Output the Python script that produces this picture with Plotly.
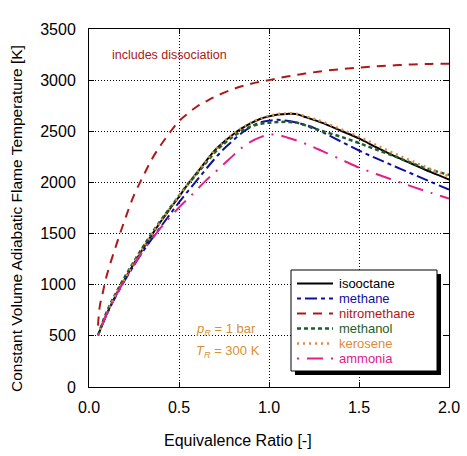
import plotly.graph_objects as go

phi = [0.05, 0.1, 0.15, 0.2, 0.25, 0.3, 0.35, 0.4, 0.45, 0.5, 0.55, 0.6, 0.65, 0.7, 0.75,
       0.8, 0.85, 0.9, 0.95, 1.0, 1.05, 1.1, 1.15, 1.2, 1.25, 1.3, 1.4, 1.5, 1.6, 1.7,
       1.8, 1.9, 2.0]

isooctane = [505, 720, 901, 1059, 1208, 1352, 1490, 1620, 1742, 1860, 1985, 2095, 2208,
             2316, 2397, 2469, 2530, 2580, 2620, 2646, 2664, 2670, 2668, 2640, 2612, 2580,
             2505, 2430, 2340, 2255, 2178, 2100, 2028]
kerosene = [505, 722, 905, 1062, 1212, 1356, 1494, 1624, 1745, 1862, 1987, 2097, 2210,
            2318, 2400, 2472, 2534, 2584, 2624, 2650, 2668, 2675, 2672, 2648, 2622, 2592,
            2520, 2448, 2362, 2280, 2205, 2130, 2058]
methanol = [505, 740, 920, 1080, 1228, 1370, 1505, 1632, 1752, 1868, 1985, 2085, 2192,
            2295, 2378, 2448, 2505, 2548, 2572, 2584, 2590, 2592, 2585, 2560, 2526, 2500,
            2446, 2385, 2318, 2255, 2185, 2122, 2075]
methane = [505, 715, 890, 1045, 1190, 1325, 1450, 1570, 1688, 1805, 1915, 2022, 2130,
           2235, 2330, 2410, 2485, 2545, 2585, 2603, 2612, 2602, 2586, 2562, 2534, 2490,
           2400, 2312, 2232, 2156, 2080, 2005, 1930]
ammonia = [505, 720, 895, 1050, 1195, 1333, 1445, 1560, 1660, 1755, 1842, 1930, 2020,
           2100, 2180, 2262, 2340, 2400, 2440, 2468, 2463, 2440, 2412, 2380, 2343, 2303,
           2225, 2145, 2080, 2018, 1956, 1898, 1842]

phi_nitro = [0.05, 0.06, 0.075, 0.1, 0.15, 0.2, 0.25, 0.3, 0.35, 0.4, 0.45, 0.5, 0.55,
             0.6, 0.65, 0.7, 0.8, 0.9, 1.0, 1.1, 1.2, 1.3, 1.4, 1.5, 1.6, 1.7, 1.8, 1.9, 2.0]
nitromethane = [600, 790, 910, 1100, 1380, 1640, 1875, 2057, 2230, 2368, 2490, 2600, 2675,
                2742, 2792, 2838, 2912, 2965, 3000, 3035, 3064, 3089, 3107, 3122, 3135,
                3145, 3154, 3159, 3160]

fuel_names = ["isooctane", "methane", "nitromethane", "methanol", "kerosene", "ammonia"]

FONT = "Liberation Sans, Arial, sans-serif"

styles = {
    "isooctane": ("#000000", "solid", 2),
    "methane": ("#1010A0", "4px,4px,12px,4px", 2),
    "nitromethane": ("#B01818", "9px,7px", 2),
    "methanol": ("#1E5E28", "4px,3px", 2.5),
    "kerosene": ("#E08A40", "2px,4px", 2.5),
    "ammonia": ("#E0208C", "2px,8px,16px,8px", 2),
}
data = {
    "isooctane": (phi, isooctane),
    "methane": (phi, methane),
    "nitromethane": (phi_nitro, nitromethane),
    "methanol": (phi, methanol),
    "kerosene": (phi, kerosene),
    "ammonia": (phi, ammonia),
}

fig = go.Figure()
for name in fuel_names:
    xs, ys = data[name]
    color, dash, width = styles[name]
    fig.add_trace(go.Scatter(
        x=xs, y=ys, mode="lines", line_shape="spline",
        line=dict(color=color, dash=dash, width=width), name=name,
    ))

axis_common = dict(
    showline=True, linecolor="black", linewidth=1, mirror="allticks",
    ticks="inside", ticklen=5, tickcolor="black",
    showgrid=True, gridcolor="black", griddash="1px,2px", gridwidth=1,
    zeroline=False, automargin=False,
    tickfont=dict(size=16, color="black", family=FONT),
)
fig.update_xaxes(range=[0, 2.0], dtick=0.5, tickformat=".1f", ticklabelstandoff=6, **axis_common)
fig.update_yaxes(range=[0, 3500], dtick=500, ticklabelstandoff=9, **axis_common)

# plot-area pixel geometry helpers (for decorations only)
L, R, T, B = 89, 449, 29, 387
def px(x):
    return (x - L) / (R - L)
def py(y):
    return (B - y) / (B - T)

# axis titles
fig.add_annotation(x=px(237.5), y=py(440), xref="paper", yref="paper",
                   xanchor="center", yanchor="middle",
                   text="Equivalence Ratio [-]", showarrow=False,
                   font=dict(size=16, family=FONT, color="black"))
fig.add_annotation(x=px(16), y=py(219), xref="paper", yref="paper", textangle=-90,
                   xanchor="center", yanchor="middle",
                   text="Constant Volume Adiabatic Flame Temperature [K]", showarrow=False,
                   font=dict(size=15.5, family=FONT, color="black"))

fig.add_annotation(x=0.117, y=3244, xref="x", yref="y", text="includes dissociation",
                   showarrow=False, xanchor="left",
                   font=dict(size=12.5, color="#A82020", family=FONT))
fig.add_annotation(x=0.585, y=560, xref="x", yref="y",
                   text="<i>p<sub>R</sub></i> = 1 bar", showarrow=False, xanchor="left",
                   font=dict(size=13, color="#D89030", family=FONT))
fig.add_annotation(x=0.585, y=345, xref="x", yref="y",
                   text="<i>T<sub>R</sub></i> = 300 K", showarrow=False, xanchor="left",
                   font=dict(size=13, color="#D89030", family=FONT))

# hand-drawn legend: shadow, box, samples, labels
fig.add_shape(type="rect", xref="paper", yref="paper",
              x0=px(295), x1=px(441), y0=py(375), y1=py(274),
              fillcolor="black", line=dict(width=0), layer="above")
fig.add_shape(type="rect", xref="paper", yref="paper",
              x0=px(291), x1=px(437), y0=py(371), y1=py(270),
              fillcolor="white", line=dict(color="black", width=1), layer="above")
row_y = [283.5, 298.5, 313.5, 328.5, 343.5, 358.5]
for name, yy in zip(fuel_names, row_y):
    color, dash, width = styles[name]
    fig.add_shape(type="line", xref="paper", yref="paper",
                  x0=px(297), x1=px(333), y0=py(yy), y1=py(yy),
                  line=dict(color=color, dash=dash, width=width), layer="above")
    fig.add_annotation(x=px(337), y=py(yy), xref="paper", yref="paper",
                       text=name, showarrow=False, xanchor="left", yanchor="middle",
                       font=dict(size=13, color=color, family=FONT))

fig.update_layout(
    width=467, height=456,
    margin=dict(l=L, r=467 - R, t=T, b=456 - B),
    plot_bgcolor="white", paper_bgcolor="white",
    font=dict(family=FONT, color="black"),
    showlegend=False,
)

fig.write_html("out.html", config={"displayModeBar": False},
               post_script="document.body.style.margin='0';")
